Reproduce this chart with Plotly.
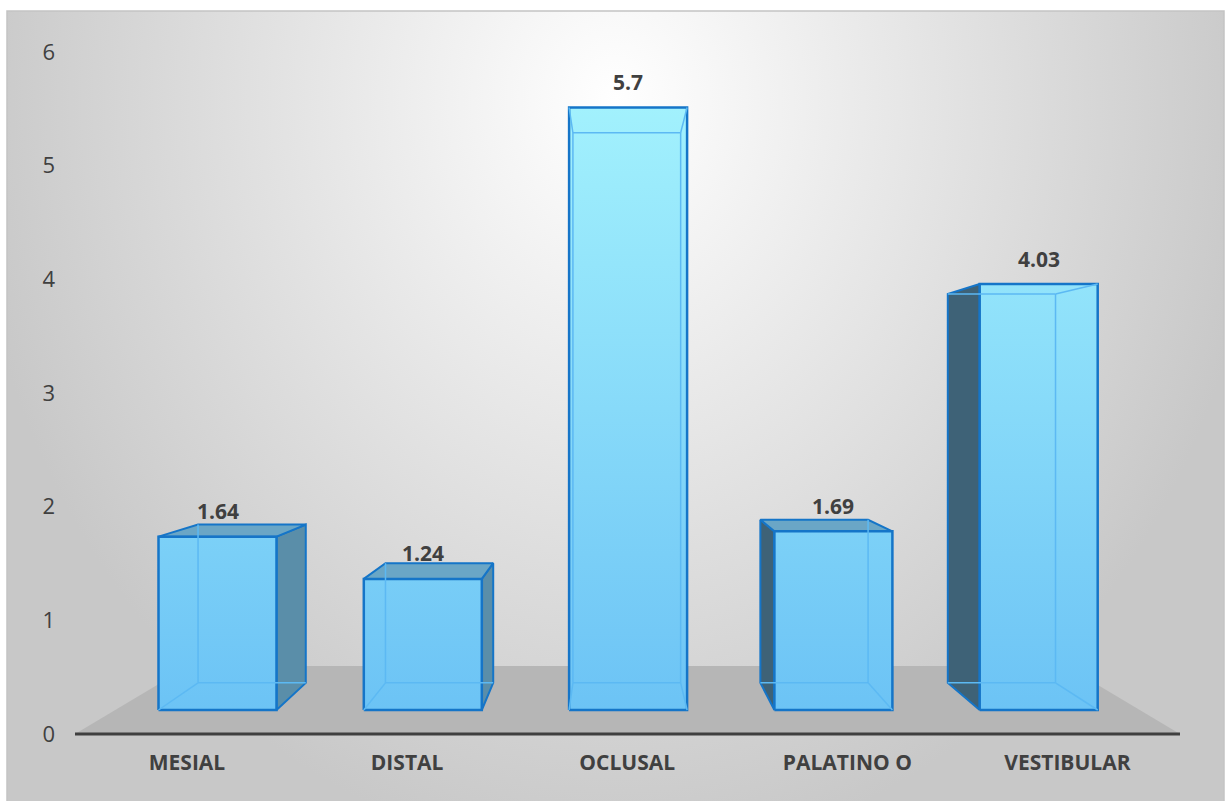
import plotly.graph_objects as go

# ---- data ----
categories = ["MESIAL", "DISTAL", "OCLUSAL", "PALATINO O", "VESTIBULAR"]
values = [1.64, 1.24, 5.7, 1.69, 4.03]
value_labels = ["1.64", "1.24", "5.7", "1.69", "4.03"]
y_ticks = [0, 1, 2, 3, 4, 5, 6]

# ---- canvas / geometry ----
W, H = 1227, 801
CX0, CX1, CY0 = 7, 1224, 11          # chart-area box in pixels (left, right, top)
FLOOR_Y_FRONT, FLOOR_Y_BACK = 734, 666
FLOOR_FRONT = (75, 1180)
FLOOR_BACK = (189, 1066)

# bar axis: 0 at 710 px, 105.7 px per unit; category step 205.3 px, first at 217.5 px
BAR_PPU_Y, BAR_ZERO_Y = 105.7, 710
BAR_PPU_X, BAR_FIRST_X = 205.3, 217.5
# value/category axes sit on the floor front: 113.7 px per unit, 220.1 px per category
AXIS_PPU_Y, AXIS_ZERO_Y = 113.7, 734
AXIS_PPU_X, AXIS_FIRST_X = 220.1, 187

HALF_W = 59 / BAR_PPU_X               # half bar width in category units
VANISH = ((613 - BAR_FIRST_X) / BAR_PPU_X, (BAR_ZERO_Y - 398) / BAR_PPU_Y)
DEPTH = 0.087                          # shrink of the back face toward the vanishing point

EDGE = "#1575c8"
HIDDEN = "#5cb9f3"
SIDE_RIGHT = "#5a8ea9"
SIDE_LEFT = "#3e6277"
TOP_FACE = "#6aa6c6"
TEXT = "#404040"
FONT = "Open Sans"

plot_h = H - CY0
plot_w = CX1 - CX0


def axis_range(first_px, ppu, length_px, origin_px):
    lo = -(first_px - origin_px) / ppu
    return [lo, lo + length_px / ppu]


x_bar_range = axis_range(BAR_FIRST_X, BAR_PPU_X, plot_w, CX0)
x_cat_range = axis_range(AXIS_FIRST_X, AXIS_PPU_X, plot_w, CX0)
y_bar_lo = -(H - BAR_ZERO_Y) / BAR_PPU_Y
y_bar_range = [y_bar_lo, y_bar_lo + plot_h / BAR_PPU_Y]
y_tick_lo = -(H - AXIS_ZERO_Y) / AXIS_PPU_Y
y_tick_range = [y_tick_lo, y_tick_lo + plot_h / AXIS_PPU_Y]


def to_back(p):
    vx, vy = VANISH
    return (vx + (p[0] - vx) * (1 - DEPTH), vy + (p[1] - vy) * (1 - DEPTH))


fig = go.Figure()

# radial background of the chart area
fig.add_trace(go.Scatter(
    x=[-35, 1265, 1265, -35, -35], y=[-660, -660, 860, 860, -660],
    mode="lines", line=dict(width=0), fill="toself",
    fillgradient=dict(type="radial", colorscale=[[0, "#ffffff"], [1, "#c8c8c8"]]),
    hoverinfo="skip", showlegend=False, xaxis="x", yaxis="y"))

# floor
fig.add_trace(go.Scatter(
    x=[FLOOR_FRONT[0], FLOOR_FRONT[1], FLOOR_BACK[1], FLOOR_BACK[0], FLOOR_FRONT[0]],
    y=[FLOOR_Y_FRONT, FLOOR_Y_FRONT, FLOOR_Y_BACK, FLOOR_Y_BACK, FLOOR_Y_FRONT],
    mode="lines", line=dict(width=0), fill="toself", fillcolor="#b6b6b6",
    hoverinfo="skip", showlegend=False, xaxis="x", yaxis="y"))
fig.add_trace(go.Scatter(
    x=list(FLOOR_FRONT), y=[FLOOR_Y_FRONT, FLOOR_Y_FRONT], mode="lines",
    line=dict(color="#3f3f3f", width=3), hoverinfo="skip", showlegend=False,
    xaxis="x", yaxis="y"))

# axes carrier for category and value tick labels
fig.add_trace(go.Scatter(
    x=list(range(len(categories))), y=[0] * len(categories), mode="none",
    hoverinfo="skip", showlegend=False, xaxis="x2", yaxis="y2"))

vmax = max(values)
back_edges = [("BL", "BR"), ("BR", "TR"), ("TR", "TL"), ("TL", "BL")]

for i, v in enumerate(values):
    xl, xr = i - HALF_W, i + HALF_W
    fr = {"BL": (xl, 0.0), "BR": (xr, 0.0), "TR": (xr, v), "TL": (xl, v)}
    bk = {k: to_back(p) for k, p in fr.items()}

    faces = []
    used_back, used_conn = set(), set()
    if bk["BR"][0] > xr:
        faces.append((["BR", "TR"], SIDE_RIGHT))
        used_back.add(("BR", "TR")); used_conn.update(["BR", "TR"])
    if bk["BL"][0] < xl:
        faces.append((["TL", "BL"], SIDE_LEFT))
        used_back.add(("TL", "BL")); used_conn.update(["TL", "BL"])
    if bk["TL"][1] > v:
        faces.append((["TR", "TL"], TOP_FACE))
        used_back.add(("TR", "TL")); used_conn.update(["TR", "TL"])

    for (a, b), color in faces:
        pts = [fr[a], fr[b], bk[b], bk[a], fr[a]]
        fig.add_trace(go.Scatter(
            x=[p[0] for p in pts], y=[p[1] for p in pts], mode="lines",
            fill="toself", fillcolor=color, line=dict(color=EDGE, width=2),
            hoverinfo="skip", showlegend=False, xaxis="x3", yaxis="y3"))

    # front face
    fig.add_trace(go.Scatter(
        x=[xl, xr, xr, xl, xl], y=[0, 0, v, v, 0], mode="lines", fill="toself",
        fillgradient=dict(type="vertical", start=0, stop=vmax,
                          colorscale=[[0, "#6cc3f5"], [1, "#a2f1fd"]]),
        line=dict(color=EDGE, width=2.5),
        name=categories[i], hovertemplate=f"{categories[i]}: {v}<extra></extra>",
        showlegend=False, xaxis="x3", yaxis="y3"))

    # edges seen through the transparent front
    hx, hy = [], []
    for a, b in back_edges:
        if (a, b) not in used_back:
            hx += [bk[a][0], bk[b][0], None]; hy += [bk[a][1], bk[b][1], None]
    for c in fr:
        if c not in used_conn:
            hx += [fr[c][0], bk[c][0], None]; hy += [fr[c][1], bk[c][1], None]
    fig.add_trace(go.Scatter(
        x=hx, y=hy, mode="lines", line=dict(color=HIDDEN, width=1.5),
        hoverinfo="skip", showlegend=False, xaxis="x3", yaxis="y3"))

# value labels above each bar
for i, (v, lab) in enumerate(zip(values, value_labels)):
    fig.add_annotation(x=i, y=v, xref="x3", yref="y3", text=lab, showarrow=False,
                       yshift=25.5, yanchor="middle",
                       font=dict(family=FONT, size=21, color=TEXT, weight="bold"))

hidden_axis = dict(visible=False, showgrid=False, zeroline=False, fixedrange=True)

fig.update_layout(
    width=W, height=H,
    margin=dict(l=0, r=0, t=0, b=0),
    paper_bgcolor="white", plot_bgcolor="rgba(0,0,0,0)",
    showlegend=False,
    xaxis=dict(hidden_axis, domain=[CX0 / W, CX1 / W], range=[CX0, CX1]),
    yaxis=dict(hidden_axis, domain=[0, plot_h / H], range=[H, CY0]),
    xaxis2=dict(overlaying="x", anchor="free", position=(H - AXIS_ZERO_Y) / H,
                range=x_cat_range, tickmode="array",
                tickvals=list(range(len(categories))), ticktext=categories,
                tickfont=dict(family=FONT, size=21, color=TEXT, weight="bold"),
                showgrid=False, zeroline=False, showline=False, ticks="",
                ticklabelstandoff=14, fixedrange=True),
    yaxis2=dict(overlaying="y", anchor="free", position=57 / W, side="left",
                range=y_tick_range, tickmode="array", tickvals=y_ticks,
                tickfont=dict(family=FONT, size=22, color=TEXT),
                showgrid=False, zeroline=False, showline=False, ticks="",
                ticklabelstandoff=2, fixedrange=True),
    xaxis3=dict(hidden_axis, overlaying="x", anchor="y3", range=x_bar_range),
    yaxis3=dict(hidden_axis, overlaying="y", anchor="x3", range=y_bar_range),
    shapes=[dict(type="rect", xref="paper", yref="paper",
                 x0=CX0 / W, x1=CX1 / W, y0=-0.01, y1=plot_h / H,
                 line=dict(color="#c3c3c3", width=1.5), layer="above")],
)

fig.write_html("out.html")
